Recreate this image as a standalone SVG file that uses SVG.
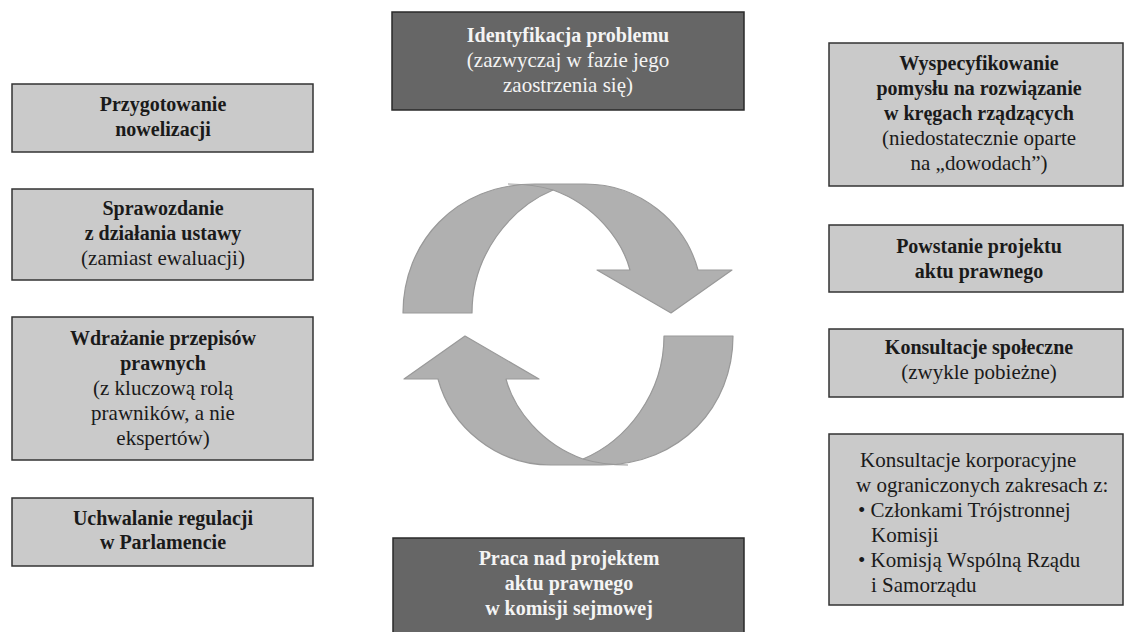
<svg xmlns="http://www.w3.org/2000/svg" width="1125" height="632" viewBox="0 0 1125 632">
<style>
.box{fill:#cacaca;stroke:#333;stroke-width:1.5}
.dbox{fill:#666;stroke:#2a2a2a;stroke-width:1.5}
.t{font-family:'Liberation Serif','DejaVu Serif',serif;font-size:21px;fill:#1a1a1a;text-anchor:middle}
.b{font-weight:bold;font-size:20px}
.w{fill:#f4f4f4}
.l{text-anchor:start}
.arrow{fill:#b0b0b0;stroke:#999;stroke-width:1.2;stroke-linejoin:round}
.seam{fill:none;stroke:#999;stroke-width:1.2}
</style>
<rect width="1125" height="632" fill="#fff"/>
<g id="connectors">
  <g id="arrow-top">
    <path class="arrow" d="M403,313 C403,243 455,184 535,184 L585,184 C640,184 685,222 698,270 L732,270 L671,313 L597,270 L630,270 C622,240 595,205 553,190 C510,208 472,255 472,313 Z"/>
    <path class="seam" d="M553,190 C540,186 525,184 508,184"/>
  </g>
  <g id="arrow-bottom" transform="rotate(180 568 324.5)">
    <path class="arrow" d="M403,313 C403,243 455,184 535,184 L585,184 C640,184 685,222 698,270 L732,270 L671,313 L597,270 L630,270 C622,240 595,205 553,190 C510,208 472,255 472,313 Z"/>
    <path class="seam" d="M553,190 C540,186 525,184 508,184"/>
  </g>
</g>
<g id="node-identyfikacja">
  <rect class="dbox" x="392" y="12" width="352" height="98"/>
  <text class="t b w" x="568" y="42">Identyfikacja problemu</text>
  <text class="t w" x="568" y="67">(zazwyczaj w fazie jego</text>
  <text class="t w" x="568" y="92">zaostrzenia się)</text>
</g>
<g id="node-wyspecyfikowanie">
  <rect class="box" x="829" y="43" width="294" height="143"/>
  <text class="t b" x="979" y="70">Wyspecyfikowanie</text>
  <text class="t b" x="979" y="95">pomysłu na rozwiązanie</text>
  <text class="t b" x="979" y="120">w kręgach rządzących</text>
  <text class="t" x="979" y="145">(niedostatecznie oparte</text>
  <text class="t" x="979" y="170">na „dowodach”)</text>
</g>
<g id="node-powstanie">
  <rect class="box" x="829" y="225" width="294" height="67"/>
  <text class="t b" x="979" y="253">Powstanie projektu</text>
  <text class="t b" x="979" y="278">aktu prawnego</text>
</g>
<g id="node-konsultacje-spoleczne">
  <rect class="box" x="829" y="329" width="294" height="68"/>
  <text class="t b" x="979" y="354">Konsultacje społeczne</text>
  <text class="t" x="979" y="379">(zwykle pobieżne)</text>
</g>
<g id="node-konsultacje-korporacyjne">
  <rect class="box" x="829" y="434" width="294" height="171"/>
  <text class="t l" x="860" y="467">Konsultacje korporacyjne</text>
  <text class="t l" x="856" y="492">w ograniczonych zakresach z:</text>
  <text class="t l" x="858" y="517">• Członkami Trójstronnej</text>
  <text class="t l" x="871" y="542">Komisji</text>
  <text class="t l" x="858" y="567">• Komisją Wspólną Rządu</text>
  <text class="t l" x="871" y="592">i Samorządu</text>
</g>
<g id="node-praca">
  <rect class="dbox" x="393" y="538" width="351" height="100"/>
  <text class="t b w" x="569" y="565">Praca nad projektem</text>
  <text class="t b w" x="569" y="590">aktu prawnego</text>
  <text class="t b w" x="569" y="615">w komisji sejmowej</text>
</g>
<g id="node-uchwalanie">
  <rect class="box" x="12" y="498" width="301" height="68"/>
  <text class="t b" x="163" y="525">Uchwalanie regulacji</text>
  <text class="t b" x="163" y="549">w Parlamencie</text>
</g>
<g id="node-wdrazanie">
  <rect class="box" x="12" y="317" width="301" height="143"/>
  <text class="t b" x="163" y="345">Wdrażanie przepisów</text>
  <text class="t b" x="163" y="370">prawnych</text>
  <text class="t" x="163" y="395">(z kluczową rolą</text>
  <text class="t" x="163" y="420">prawników, a nie</text>
  <text class="t" x="163" y="445">ekspertów)</text>
</g>
<g id="node-sprawozdanie">
  <rect class="box" x="12" y="189" width="301" height="91"/>
  <text class="t b" x="163" y="215">Sprawozdanie</text>
  <text class="t b" x="163" y="240">z działania ustawy</text>
  <text class="t" x="163" y="265">(zamiast ewaluacji)</text>
</g>
<g id="node-przygotowanie">
  <rect class="box" x="12" y="84" width="301" height="68"/>
  <text class="t b" x="163" y="111">Przygotowanie</text>
  <text class="t b" x="163" y="136">nowelizacji</text>
</g>
</svg>
